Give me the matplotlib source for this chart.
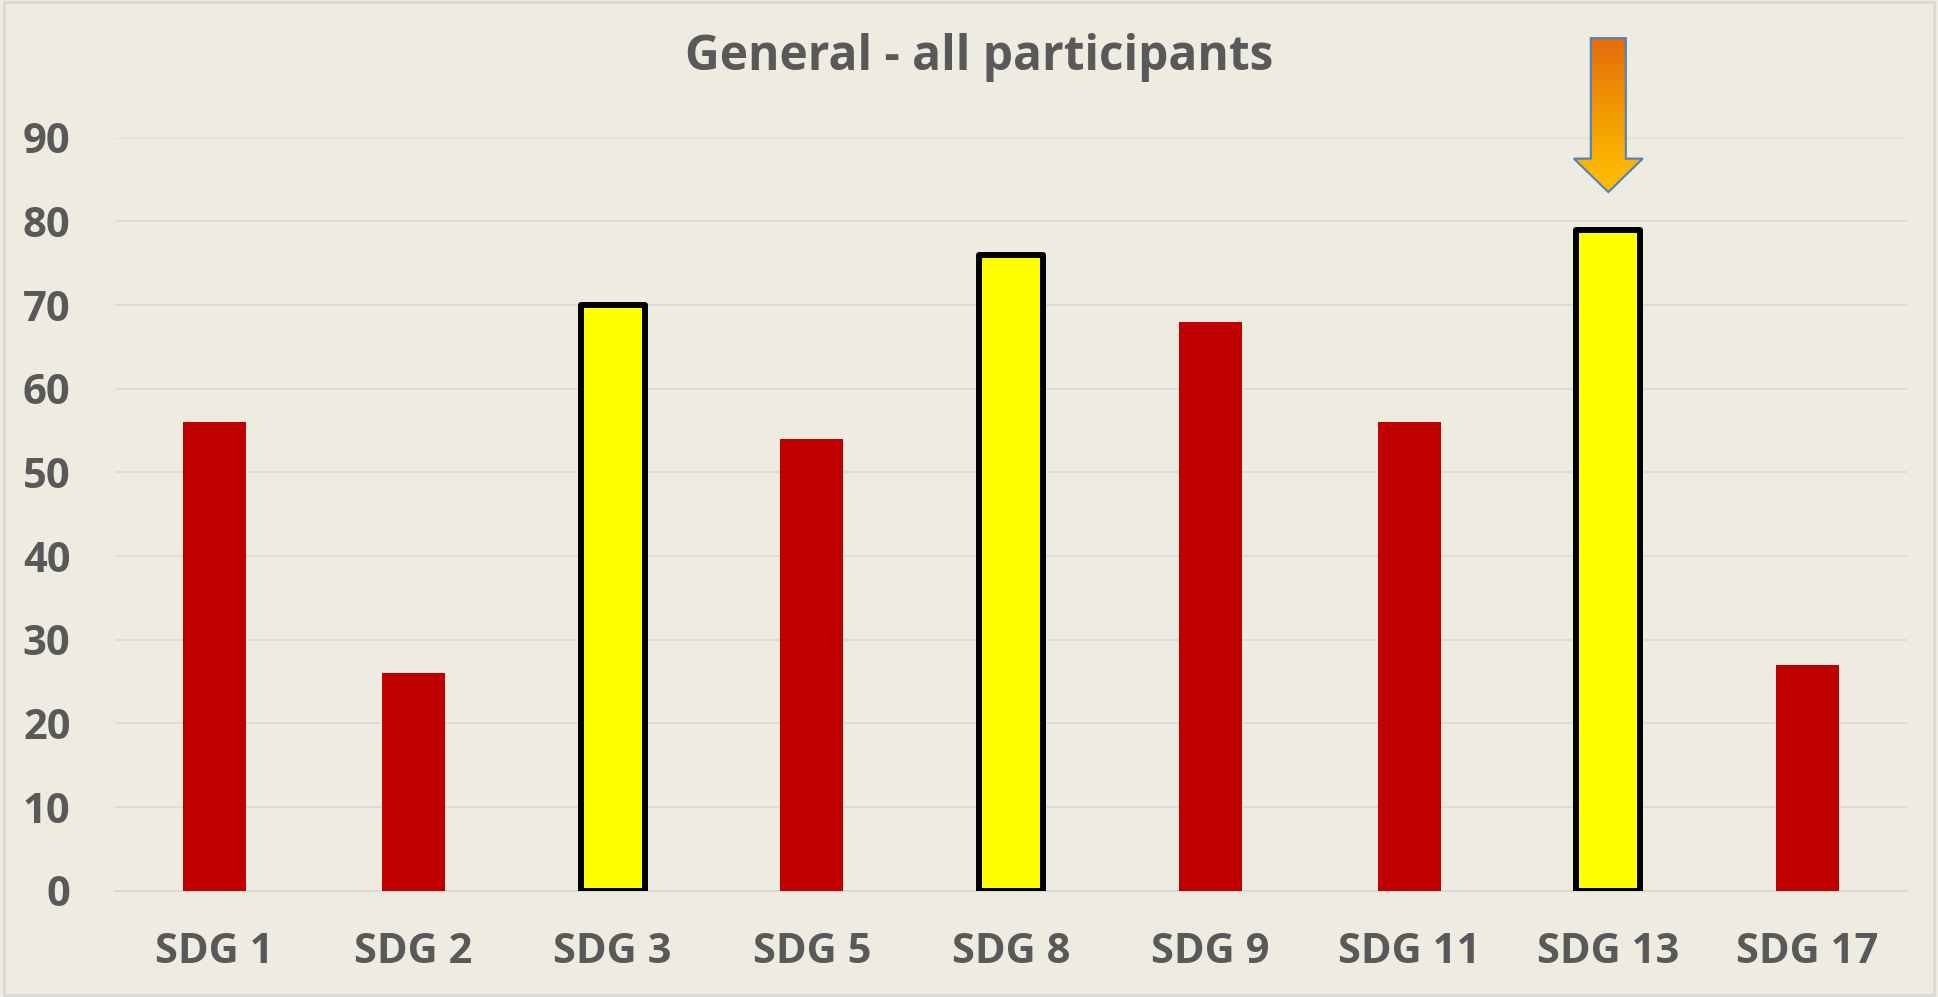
import numpy as np
import matplotlib.pyplot as plt
from matplotlib.patches import Polygon, Rectangle
from matplotlib.colors import LinearSegmentedColormap

# Данные
categories = ["SDG 1", "SDG 2", "SDG 3", "SDG 5", "SDG 8", "SDG 9", "SDG 11", "SDG 13", "SDG 17"]
values = [56, 26, 70, 54, 76, 68, 56, 79, 27]
highlighted = ["SDG 3", "SDG 8", "SDG 13"]
y_ticks = [0, 10, 20, 30, 40, 50, 60, 70, 80, 90]
title = "General - all participants"
arrow_target = "SDG 13"

bg = "#EEEBE0"
text_color = "#595959"
grid_color = "#D9D9D9"

plt.rcParams['font.family'] = ['Open Sans', 'DejaVu Sans']
plt.rcParams['font.weight'] = 'bold'

fig = plt.figure(figsize=(19.38, 9.97), dpi=100)
fig.patch.set_facecolor(bg)
ax = fig.add_axes([0.0593, 0.1066, 0.9247, 0.7553])
ax.set_facecolor(bg)

x = np.arange(len(categories))
for xi, cat, v in zip(x, categories, values):
    if cat in highlighted:
        ax.bar(xi, v, width=0.32, color="#FFFF00", edgecolor="black",
               linewidth=4.3, joinstyle='round', zorder=3)
    else:
        ax.bar(xi, v, width=0.317, color="#C00000", linewidth=0, zorder=3)

ax.set_xlim(-0.5, len(categories) - 0.5)
ax.set_ylim(0, 90)
ax.set_yticks(y_ticks)
ax.set_xticks(x)
ax.set_xticklabels(categories)
ax.tick_params(axis='both', length=0, labelsize=30, labelcolor=text_color)
ax.tick_params(axis='y', pad=32)
ax.tick_params(axis='x', pad=30)
ax.yaxis.grid(True, color=grid_color, linewidth=1.2, zorder=0)
ax.set_axisbelow(True)
for side in ['top', 'right', 'left']:
    ax.spines[side].set_visible(False)
ax.spines['bottom'].set_color(grid_color)
ax.spines['bottom'].set_linewidth(1.5)

fig.text(0.505, 0.942, title, ha='center', va='center', fontsize=34.5,
         fontweight='bold', color=text_color)

# Стрелка с градиентом над SDG 13
xc = categories.index(arrow_target)
shaft = 0.088
head = 0.173
y_top, y_head, y_tip = 101.9, 87.5, 83.5
pts = [(xc - shaft, y_top), (xc + shaft, y_top), (xc + shaft, y_head),
       (xc + head, y_head), (xc, y_tip), (xc - head, y_head),
       (xc - shaft, y_head)]
outline = Polygon(pts, closed=True, facecolor='none', edgecolor="#4F81BD",
                  linewidth=1.5, zorder=6, clip_on=False)
ax.add_patch(outline)
grad = np.linspace(0, 1, 256).reshape(-1, 1)
cmap = LinearSegmentedColormap.from_list("arr", ["#E36C0A", "#F39C00", "#FFC000"])
im = ax.imshow(grad, cmap=cmap, aspect='auto', origin='upper',
               extent=[xc - head, xc + head, y_tip, y_top], zorder=5)
im.set_clip_box(fig.bbox)
im.set_clip_path(outline)
ax.set_xlim(-0.5, len(categories) - 0.5)
ax.set_ylim(0, 90)

# Рамка вокруг картинки
fig.patches.append(Rectangle((0.002, 0.002), 0.996, 0.996, transform=fig.transFigure,
                             fill=False, edgecolor=grid_color, linewidth=2))

fig.savefig("out.png", dpi=100, facecolor=bg)
